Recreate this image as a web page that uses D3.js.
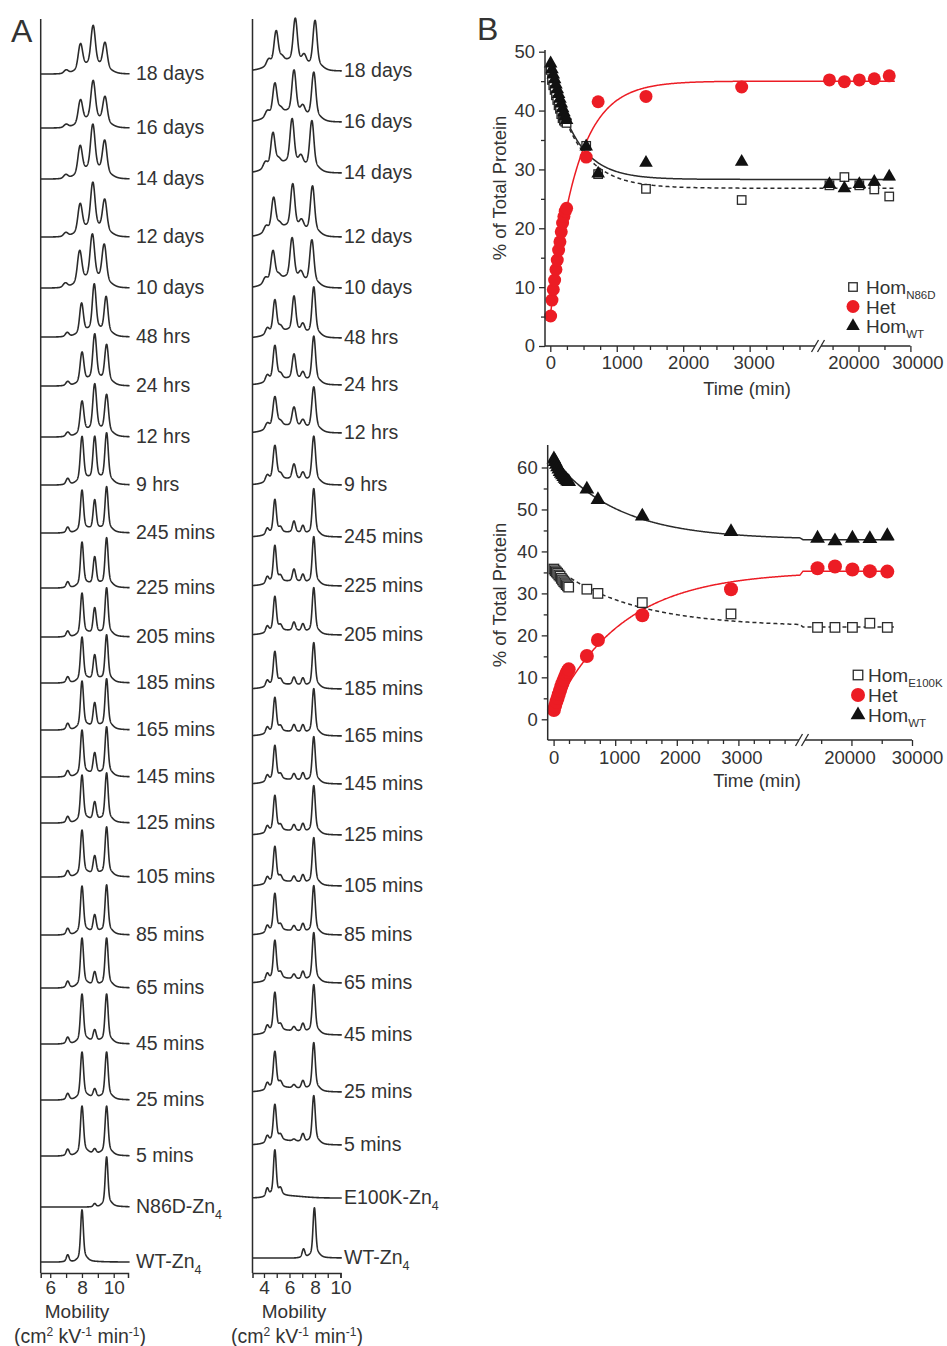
<!DOCTYPE html>
<html>
<head>
<meta charset="utf-8">
<script src="https://cdnjs.cloudflare.com/ajax/libs/d3/7.8.5/d3.min.js"></script>
<style>
  body { margin: 0; background: #fff; }
  text { font-family: "Liberation Sans", Arial, sans-serif; fill: #333; }
</style>
</head>
<body>
<script>
// ---------- Panel A: electropherograms (peak heights) ----------
const labelsN86D = ["18 days", "16 days", "14 days", "12 days", "10 days", "48 hrs", "24 hrs", "12 hrs", "9 hrs",
    "245 mins", "225 mins", "205 mins", "185 mins", "165 mins", "145 mins", "125 mins", "105 mins", "85 mins",
    "65 mins", "45 mins", "25 mins", "5 mins", "N86D-Zn4", "WT-Zn4"];
const labelsE100K = labelsN86D.slice(0, 22).concat(["E100K-Zn4", "WT-Zn4"]);

// stacking offset of each trace (in units of peak height)
const offsetsN86D = [23.76, 22.68, 21.66, 20.5, 19.48, 18.5, 17.52, 16.5, 15.54, 14.58, 13.48, 12.5, 11.58, 10.64,
    9.7, 8.78, 7.7, 6.54, 5.48, 4.36, 3.24, 2.12, 1.1, 0];
const offsetsE100K = [23.82, 22.8, 21.78, 20.5, 19.48, 18.48, 17.54, 16.58, 15.54, 14.5, 13.52, 12.54, 11.46, 10.52,
    9.56, 8.54, 7.52, 6.54, 5.58, 4.54, 3.4, 2.34, 1.28, 0.08];

// N86D mixing: WT peak (~8.0), heterodimer (~8.8), N86D peak (~9.55)
const wtN86D = [0.54, 0.50, 0.60, 0.60, 0.68, 0.64, 0.64, 0.68, 0.94, 0.84, 0.90, 0.86, 0.90, 0.96, 0.92, 0.94,
    0.92, 0.96, 0.98, 0.98, 0.94, 0.98, 0, 1.04];
const hetN86D = [0.84, 0.82, 0.96, 0.96, 0.94, 0.98, 0.96, 0.98, 0.90, 0.62, 0.58, 0.54, 0.52, 0.50, 0.44, 0.38,
    0.38, 0.36, 0.28, 0.24, 0.18, 0.10, 0.07, 0];
const mutN86D = [0.56, 0.56, 0.70, 0.68, 0.80, 0.76, 0.78, 0.80, 1.00, 0.90, 0.98, 0.96, 0.94, 1.00, 0.98, 0.98,
    0.98, 0.98, 0.98, 0.98, 0.94, 0.98, 1.0, 0];
const shiftN86D = [-0.1, -0.1, -0.12, -0.12, -0.15, -0.03, 0, 0, 0, 0, 0, 0, 0, 0, 0, 0, 0, 0, 0, 0, 0, 0, 0, 0];
const widthN86D = [0.13, 0.13, 0.13, 0.13, 0.13, 0.11, 0.11, 0.11, 0.1, 0.09, 0.09, 0.09, 0.09, 0.09, 0.09, 0.09,
    0.09, 0.09, 0.09, 0.09, 0.09, 0.09, 0.08, 0.08];
const bgN86D = [0.1, 0.1, 0.1, 0.1, 0.1, 0.06, 0.06, 0.06, 0.05, 0.03, 0.03, 0.03, 0.03, 0.03, 0.03, 0.03, 0.03,
    0.03, 0.03, 0.03, 0.03, 0.03, 0, 0];

// E100K mixing: E100K peak (~4.85), heterodimer (~6.35), WT peak (~7.9)
const mutE100K = [0.66, 0.64, 0.68, 0.66, 0.62, 0.66, 0.70, 0.62, 0.70, 0.68, 0.74, 0.70, 0.68, 0.70, 0.70, 0.72,
    0.72, 0.76, 0.78, 0.78, 0.74, 0.74, 0.92, 0];
const hetE100K = [0.90, 0.88, 0.92, 0.90, 0.84, 0.72, 0.52, 0.40, 0.32, 0.24, 0.26, 0.18, 0.16, 0.15, 0.13, 0.13,
    0.12, 0.11, 0.10, 0.09, 0.07, 0.04, 0, 0];
const wtE100K = [0.96, 0.94, 0.98, 0.96, 0.90, 0.98, 0.94, 0.88, 0.94, 0.94, 0.96, 0.92, 0.90, 0.92, 0.92, 0.96,
    0.94, 0.96, 0.98, 0.98, 0.96, 0.96, 0, 1.0];
const shiftE100K = [0.1, 0, -0.15, -0.1, -0.15, 0, 0, 0, 0, 0, 0, 0, 0, 0, 0, 0, 0, 0, 0, 0, 0, 0, 0, 0.05];
const widthE100K = [0.15, 0.15, 0.15, 0.15, 0.15, 0.13, 0.13, 0.14, 0.13, 0.11, 0.11, 0.11, 0.11, 0.11, 0.11, 0.11,
    0.11, 0.11, 0.11, 0.11, 0.11, 0.11, 0.1, 0.1];
const bgE100K = [0.16, 0.16, 0.16, 0.16, 0.16, 0.12, 0.1, 0.12, 0.1, 0.08, 0.08, 0.08, 0.08, 0.08, 0.08, 0.08, 0.08,
    0.08, 0.08, 0.08, 0.08, 0.08, 0.04, 0];

// ---------- Panel B: % of total protein vs time ----------
const times = [5, 25, 45, 65, 85, 105, 125, 145, 165, 185, 205, 225, 245, 540, 720, 1440, 2880,
    14400, 17280, 20160, 23040, 25920];

const homN86D = [46.9, 45.2, 44.3, 43.5, 42.6, 41.8, 40.9, 40.3, 39.4, 38.7, 38.3, 38.1, 37.9, 34.0, 29.2, 26.7,
    24.8, 27.3, 28.7, 27.3, 26.6, 25.4];
const hetN86D_pct = [5.1, 7.8, 9.6, 11.2, 13.0, 14.6, 16.3, 17.7, 19.4, 20.9, 22.0, 22.9, 23.4, 32.1, 41.5, 42.4,
    44.0, 45.2, 44.9, 45.2, 45.4, 45.9];
const homWT_N86D = [48.0, 47.0, 46.1, 45.3, 44.4, 43.6, 42.8, 42.0, 41.2, 40.4, 39.7, 39.0, 38.4, 33.9, 29.3, 31.1,
    31.3, 27.5, 26.8, 27.5, 27.9, 28.8];

const homE100K = [35.8, 35.4, 35.1, 34.8, 34.4, 34.1, 33.6, 33.2, 32.8, 32.5, 32.1, 31.8, 31.5, 31.0, 30.0, 27.8,
    25.1, 21.9, 21.9, 21.9, 22.9, 21.9];
const hetE100K_pct = [2.2, 3.2, 4.2, 5.1, 6.0, 6.9, 7.8, 8.6, 9.4, 10.1, 10.8, 11.4, 11.9, 15.1, 18.9, 24.8, 31.0,
    36.0, 36.4, 35.7, 35.3, 35.2];
const homWT_E100K = [62.0, 61.4, 60.7, 60.1, 59.6, 59.0, 58.6, 58.2, 57.8, 57.4, 57.1, 56.8, 56.6, 54.8, 52.3, 48.4,
    44.7, 43.1, 42.5, 43.1, 43.0, 43.7];

// single-exponential fits: [value at t=0, plateau, rate per min]
const fitHomN86D = [47, 26.8, 0.0024];
const fitHetN86D = [5, 45, 0.0025];
const fitWT_N86D = [48, 28.3, 0.0027];
const fitHomE100K = [36.5, 22, 0.0008];
const fitHetE100K = [2, 35.3, 0.00089];
const fitWT_E100K = [62, 42.8, 0.00095];

const RED = '#ec1c24';
const INK = '#2b2b2b';

const svg = d3.select('body').append('svg')
    .attr('width', 947)
    .attr('height', 1346);

// panel letters
svg.append('text').attr('x', 11).attr('y', 42).style('font-size', '32px').text('A');
svg.append('text').attr('x', 477).attr('y', 40).style('font-size', '32px').text('B');

// ---------- Panel A ----------
const yA = d3.scaleLinear().domain([0, 25]).range([1262, 12]);

function peak(m, c, h, w) {
    const d = m - c;
    let v = h * (0.85 * Math.exp(-d * d / (2 * w * w)) + 0.15 * Math.exp(-d * d / (18 * w * w)));
    if (d > 0) v += h * 0.06 * (1 - Math.exp(-d / 0.1)) * Math.exp(-d / 0.6);
    return v;
}

function signalN86D(i, m) {
    const s = shiftN86D[i], w = widthN86D[i];
    return peak(m, 7.1 + s, 0.14 * wtN86D[i], w)
        + peak(m, 8.0 + s, wtN86D[i], w)
        + peak(m, 8.8 + s, hetN86D[i], w)
        + peak(m, 9.55 + s, mutN86D[i], w)
        + bgN86D[i] * Math.exp(-((m - 8.7 - s) ** 2) / (2 * 0.6 * 0.6));
}

function signalE100K(i, m) {
    const s = shiftE100K[i], w = widthE100K[i];
    return peak(m, 4.25 + s, 0.18 * mutE100K[i], w)
        + peak(m, 4.85 + s, mutE100K[i], w)
        + peak(m, 5.3 + s, 0.12 * mutE100K[i], w)
        + peak(m, 6.35 + s, hetE100K[i], w)
        + peak(m, 7.05 + s, 0.18 * wtE100K[i], w)
        + peak(m, 7.9 + s, wtE100K[i], w)
        + bgE100K[i] * Math.exp(-((m - 5.8) ** 2) / (2 * 1.3 * 1.3));
}

function drawStack(cfg) {
    const g = svg.append('g');
    const x = cfg.x;
    const line = d3.line().x(d => x(d[0])).y(d => d[1]);
    const ms = d3.range(x.domain()[0], cfg.mEnd + 0.001, 0.01);

    cfg.labels.forEach((lab, i) => {
        const pts = ms.map(m => [m, yA(cfg.offsets[i] + cfg.signal(i, m))]);
        g.append('path')
            .attr('d', line(pts))
            .attr('fill', 'none')
            .attr('stroke', INK)
            .attr('stroke-width', 1.6)
            .attr('stroke-linejoin', 'round');

        const t = g.append('text')
            .attr('x', cfg.labelX)
            .attr('y', yA(cfg.offsets[i]) + 6)
            .style('font-size', '19.5px');
        if (lab.endsWith('Zn4')) {
            t.append('tspan').text(lab.slice(0, -1));
            t.append('tspan').attr('dy', 6).style('font-size', '12.5px').text('4');
        } else {
            t.text(lab);
        }
    });

    // left axis line
    g.append('line')
        .attr('x1', x.range()[0]).attr('x2', x.range()[0])
        .attr('y1', 19).attr('y2', 1273)
        .attr('stroke', INK).attr('stroke-width', 1.5);

    // mobility axis
    const ax = g.append('g')
        .attr('transform', 'translate(0,1273)')
        .call(d3.axisBottom(x)
            .tickValues(cfg.ticks)
            .tickFormat(d => d % 2 ? '' : d)
            .tickSizeOuter(0)
            .tickSize(5)
            .tickPadding(3));
    ax.select('.domain').attr('stroke', INK).attr('stroke-width', 1.5);
    ax.selectAll('.tick line').attr('stroke', INK).attr('stroke-width', 1.3);
    ax.selectAll('.tick text')
        .style('font-size', '19px')
        .style('font-family', '"Liberation Sans", Arial, sans-serif')
        .attr('fill', '#333');

    g.append('text')
        .attr('x', cfg.titleX).attr('y', 1318)
        .attr('text-anchor', 'middle')
        .style('font-size', '19px')
        .text('Mobility');

    const u = g.append('text')
        .attr('x', cfg.titleX + 3).attr('y', 1343)
        .attr('text-anchor', 'middle')
        .style('font-size', '19.5px');
    u.append('tspan').text('(cm');
    u.append('tspan').attr('dy', -7).style('font-size', '12px').text('2');
    u.append('tspan').attr('dy', 7).text(' kV');
    u.append('tspan').attr('dy', -7).style('font-size', '12px').text('-1');
    u.append('tspan').attr('dy', 7).text(' min');
    u.append('tspan').attr('dy', -7).style('font-size', '12px').text('-1');
    u.append('tspan').attr('dy', 7).text(')');
}

drawStack({
    labels: labelsN86D,
    offsets: offsetsN86D,
    signal: signalN86D,
    x: d3.scaleLinear().domain([5.4, 10.9]).range([40.7, 128]),
    mEnd: 11.0,
    ticks: [6, 7, 8, 9, 10],
    labelX: 136,
    titleX: 77
});

drawStack({
    labels: labelsE100K,
    offsets: offsetsE100K,
    signal: signalE100K,
    x: d3.scaleLinear().domain([3.1, 10]).range([252.5, 340.5]),
    mEnd: 10.1,
    ticks: [4, 5, 6, 7, 8, 9, 10],
    labelX: 344,
    titleX: 294
});

// ---------- Panel B ----------
function brokenScale(d1, r1, d2, r2) {
    const s1 = d3.scaleLinear().domain(d1).range(r1);
    const s2 = d3.scaleLinear().domain(d2).range(r2);
    const f = t => (t <= d1[1] ? s1(t) : s2(t));
    f.s1 = s1;
    f.s2 = s2;
    return f;
}

function expFit(p) {
    return t => p[1] + (p[0] - p[1]) * Math.exp(-p[2] * t);
}

function drawKinetics(cfg) {
    const g = svg.append('g');
    const x = cfg.x, y = cfg.y;
    const axY = cfg.axisY;

    // fit lines
    const tFit = d3.range(0, 4001, 10).concat(d3.range(12000, 27001, 500));
    const line = d3.line().x(d => x(d[0])).y(d => y(d[1]));
    cfg.fits.forEach(f => {
        const fn = expFit(f.p);
        g.append('path')
            .attr('d', line(tFit.map(t => [t, fn(t)])))
            .attr('fill', 'none')
            .attr('stroke', f.color)
            .attr('stroke-width', 1.5)
            .attr('stroke-dasharray', f.dash || null);
    });

    // squares
    g.selectAll('.sq').data(cfg.hom).enter()
        .append('rect')
        .attr('x', (d, i) => x(times[i]) - cfg.sq / 2)
        .attr('y', d => y(d) - cfg.sq / 2)
        .attr('width', cfg.sq).attr('height', cfg.sq)
        .attr('fill', '#fff').attr('stroke', INK).attr('stroke-width', 1.3);

    // circles
    g.selectAll('.ci').data(cfg.het).enter()
        .append('circle')
        .attr('cx', (d, i) => x(times[i]))
        .attr('cy', d => y(d))
        .attr('r', cfg.r)
        .attr('fill', RED);

    // triangles
    const tri = d3.symbol().type(d3.symbolTriangle).size(cfg.tri);
    g.selectAll('.tr').data(cfg.wt).enter()
        .append('path')
        .attr('d', tri)
        .attr('transform', (d, i) => `translate(${x(times[i])},${y(d)})`)
        .attr('fill', '#111');

    // y axis
    const ya = g.append('g')
        .attr('transform', `translate(${cfg.yAxisX},0)`)
        .call(d3.axisLeft(y)
            .tickValues(cfg.yTicks)
            .tickFormat(d => d % 10 ? '' : d)
            .tickSize(6)
            .tickPadding(4));
    ya.select('.domain').remove();
    ya.selectAll('.tick line')
        .attr('x2', d => d % 10 ? -4 : -6)
        .attr('stroke', INK).attr('stroke-width', 1.3);
    ya.selectAll('.tick text')
        .style('font-size', '18.5px')
        .style('font-family', '"Liberation Sans", Arial, sans-serif')
        .attr('fill', '#333');
    g.append('line')
        .attr('x1', cfg.yAxisX).attr('x2', cfg.yAxisX)
        .attr('y1', cfg.yTop).attr('y2', axY)
        .attr('stroke', INK).attr('stroke-width', 1.5);

    // x axis, two segments with a break
    const isMinor = d => d % 1000 || (d > 4000 && d % 10000);
    [[x.s1, d3.range(0, 4000, 250)], [x.s2, [15000, 20000, 25000, 30000]]].forEach(([s, vals]) => {
        const xa = g.append('g')
            .attr('transform', `translate(0,${axY})`)
            .call(d3.axisBottom(s)
                .tickValues(vals)
                .tickFormat(d => isMinor(d) ? '' : d)
                .tickSize(6));
        xa.select('.domain').remove();
        xa.selectAll('.tick line')
            .attr('y2', d => isMinor(d) ? 4 : 6)
            .attr('stroke', INK).attr('stroke-width', 1.3);
        xa.selectAll('.tick text')
            .attr('y', cfg.xLabelGap)
            .attr('dx', d => cfg.labelDx[d] || 0)
            .style('font-size', '18.5px')
            .style('font-family', '"Liberation Sans", Arial, sans-serif')
            .attr('fill', '#333');
    });
    const bx = cfg.breakX;
    g.append('line')
        .attr('x1', cfg.yAxisX).attr('x2', bx - 3)
        .attr('y1', axY).attr('y2', axY)
        .attr('stroke', INK).attr('stroke-width', 1.5);
    g.append('line')
        .attr('x1', bx + 3).attr('x2', x.s2.range()[1])
        .attr('y1', axY).attr('y2', axY)
        .attr('stroke', INK).attr('stroke-width', 1.5);
    [bx - 3, bx + 3].forEach(b => {
        g.append('line')
            .attr('x1', b - 3.5).attr('x2', b + 3.5)
            .attr('y1', axY + 6).attr('y2', axY - 6)
            .attr('stroke', INK).attr('stroke-width', 1.3);
    });

    // titles
    g.append('text')
        .attr('transform', `translate(${cfg.yTitleX},${cfg.yTitleY}) rotate(-90)`)
        .attr('text-anchor', 'middle')
        .attr('dy', '0.35em')
        .style('font-size', '18.5px')
        .text('% of Total Protein');
    g.append('text')
        .attr('x', cfg.xTitleX).attr('y', cfg.xTitleY)
        .attr('text-anchor', 'middle')
        .attr('dy', '0.35em')
        .style('font-size', '18.5px')
        .text('Time (min)');

    // legend
    const lx = cfg.legendX, ly = cfg.legendY, lh = cfg.legendStep;
    const lg = g.append('g');
    lg.append('rect')
        .attr('x', lx - cfg.sq / 2).attr('y', ly - cfg.sq / 2)
        .attr('width', cfg.sq).attr('height', cfg.sq)
        .attr('fill', '#fff').attr('stroke', INK).attr('stroke-width', 1.3);
    lg.append('circle').attr('cx', lx).attr('cy', ly + lh).attr('r', cfg.r).attr('fill', RED);
    lg.append('path').attr('d', tri).attr('transform', `translate(${lx},${ly + 2 * lh})`).attr('fill', '#111');

    const entries = [['Hom', cfg.mutant], ['Het', ''], ['Hom', 'WT']];
    entries.forEach(([main, sub], k) => {
        const t = lg.append('text')
            .attr('x', lx + cfg.legendTextDx).attr('y', ly + k * lh + 7)
            .style('font-size', '19px');
        t.append('tspan').text(main);
        if (sub) t.append('tspan').attr('dy', 5).style('font-size', '11.5px').text(sub);
    });
}

drawKinetics({
    x: brokenScale([0, 4000], [550.3, 816.1], [12000, 30000], [817, 910.4]),
    y: d3.scaleLinear().domain([0, 50]).range([346, 51.7]),
    hom: homN86D, het: hetN86D_pct, wt: homWT_N86D,
    fits: [
        { p: fitHetN86D, color: RED },
        { p: fitWT_N86D, color: INK },
        { p: fitHomN86D, color: INK, dash: '4,3' }
    ],
    sq: 8.5, r: 6.5, tri: 80,
    yAxisX: 545, yTop: 50, axisY: 346,
    yTicks: d3.range(0, 51, 5),
    breakX: 818, xLabelGap: 10,
    labelDx: { 1000: 5, 2000: 5, 3000: 4, 20000: -5, 30000: 7 },
    yTitleX: 500, yTitleY: 188,
    xTitleX: 747, xTitleY: 389,
    legendX: 853, legendY: 287, legendStep: 19.5, legendTextDx: 13,
    mutant: 'N86D'
});

drawKinetics({
    x: brokenScale([0, 4000], [553.6, 800], [12000, 30000], [803, 912]),
    y: d3.scaleLinear().domain([0, 60]).range([719.3, 467.5]),
    hom: homE100K, het: hetE100K_pct, wt: homWT_E100K,
    fits: [
        { p: fitHetE100K, color: RED },
        { p: fitWT_E100K, color: INK },
        { p: fitHomE100K, color: INK, dash: '4,3' }
    ],
    sq: 9.5, r: 7, tri: 95,
    yAxisX: 547.7, yTop: 445, axisY: 740,
    yTicks: d3.range(0, 61, 5),
    breakX: 802, xLabelGap: 11,
    labelDx: { 1000: 4, 2000: 3, 3000: 3, 20000: -2, 30000: 5 },
    yTitleX: 500, yTitleY: 595,
    xTitleX: 757, xTitleY: 781,
    legendX: 858, legendY: 675, legendStep: 20, legendTextDx: 10,
    mutant: 'E100K'
});
</script>
</body>
</html>
